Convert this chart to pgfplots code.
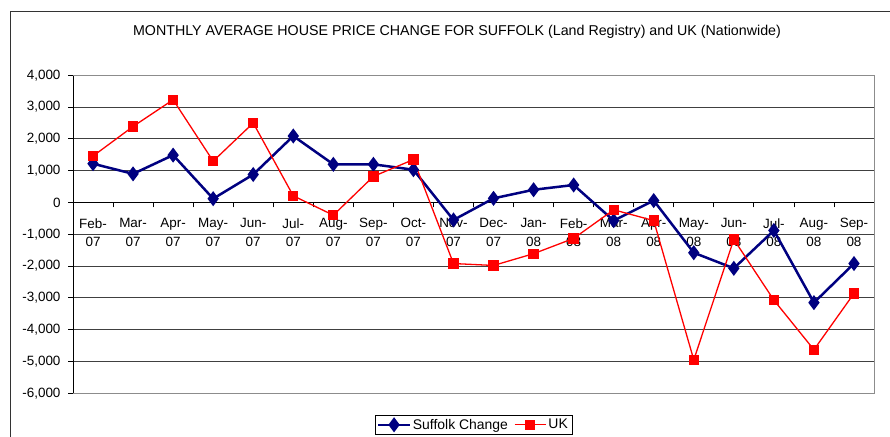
\documentclass[border=0pt]{standalone}
\usepackage{pgfplots}
\pgfplotsset{compat=1.18}
\usepackage{fontspec}
\setmainfont{Liberation Sans}
\definecolor{navy}{HTML}{000080}
\definecolor{ukred}{HTML}{FF0000}
\begin{document}
\begin{tikzpicture}[x=1bp,y=1bp]
\clip (0,0) rectangle (890,437);
\draw[black!80, line width=0.9bp] (10.5,-5) -- (10.5,425.5) -- (895,425.5);
\node[font=\fontsize{14.3}{16}\selectfont, inner sep=0pt] at (457,405) {MONTHLY AVERAGE HOUSE PRICE CHANGE FOR SUFFOLK (Land Registry) and UK (Nationwide)};
\begin{axis}[
  at={(73bp,43.7bp)}, anchor=south west,
  scale only axis, width=801bp, height=318bp,
  xmin=-0.5, xmax=19.5, ymin=-6000, ymax=4000,
  axis x line*=middle, axis y line*=left,
  axis line style={black, line width=0.9bp},
  tick align=outside,
  major tick length=0bp, minor tick length=5bp,
  tick style={black, line width=0.8bp},
  ytick={-6000,-5000,...,4000},
  minor ytick={-6000,-5000,...,4000},
  yticklabels={{-6,000},{-5,000},{-4,000},{-3,000},{-2,000},{-1,000},{0},{1,000},{2,000},{3,000},{4,000}},
  yticklabel style={font=\fontsize{13.5}{16}\selectfont, xshift=-9bp},
  xtick={0,...,19},
  minor xtick={-0.5,0.5,...,19.5},
  xticklabels={{Feb-\\07},{Mar-\\07},{Apr-\\07},{May-\\07},{Jun-\\07},{Jul-\\07},{Aug-\\07},{Sep-\\07},{Oct-\\07},{Nov-\\07},{Dec-\\07},{Jan-\\08},{Feb-\\08},{Mar-\\08},{Apr-\\08},{May-\\08},{Jun-\\08},{Jul-\\08},{Aug-\\08},{Sep-\\08}},
  xticklabel style={font=\fontsize{13.5}{18.7}\selectfont, align=center, yshift=-12.5bp},
  ymajorgrids,
  major grid style={black!75, line width=0.8bp},
  clip=false,
  legend style={at={(0.5,-0.0673)}, anchor=north, legend columns=2, draw=black, line width=0.6bp,
    font=\fontsize{14}{16}\selectfont, inner sep=2bp,
    /tikz/every even column/.append style={column sep=4bp}},
  legend image code/.code={\draw[mark repeat=2,mark phase=2] plot coordinates {(0cm,0cm) (0.55cm,0cm) (1.1cm,0cm)};},
]
\draw[black!45, line width=0.9bp] (rel axis cs:0,1) -- (rel axis cs:1,1) -- (rel axis cs:1,0) -- (rel axis cs:0,0);
\addplot[navy, line width=2.5bp, mark=diamond*, mark size=5.5bp, mark options={solid}] coordinates {
(0,1220) (1,900) (2,1490) (3,120) (4,880) (5,2090) (6,1200) (7,1200) (8,1030) (9,-550)
(10,130) (11,400) (12,550) (13,-570) (14,60) (15,-1580) (16,-2070) (17,-880) (18,-3150) (19,-1920)};
\addlegendentry{Suffolk Change}
\addplot[ukred, line width=1.3bp, mark=square*, mark size=4.5bp, mark options={solid}] coordinates {
(0,1460) (1,2390) (2,3230) (3,1300) (4,2500) (5,210) (6,-400) (7,820) (8,1350) (9,-1920)
(10,-1980) (11,-1610) (12,-1130) (13,-230) (14,-570) (15,-4950) (16,-1160) (17,-3070) (18,-4630) (19,-2860)};
\addlegendentry{UK}
\end{axis}
\end{tikzpicture}
\end{document}
